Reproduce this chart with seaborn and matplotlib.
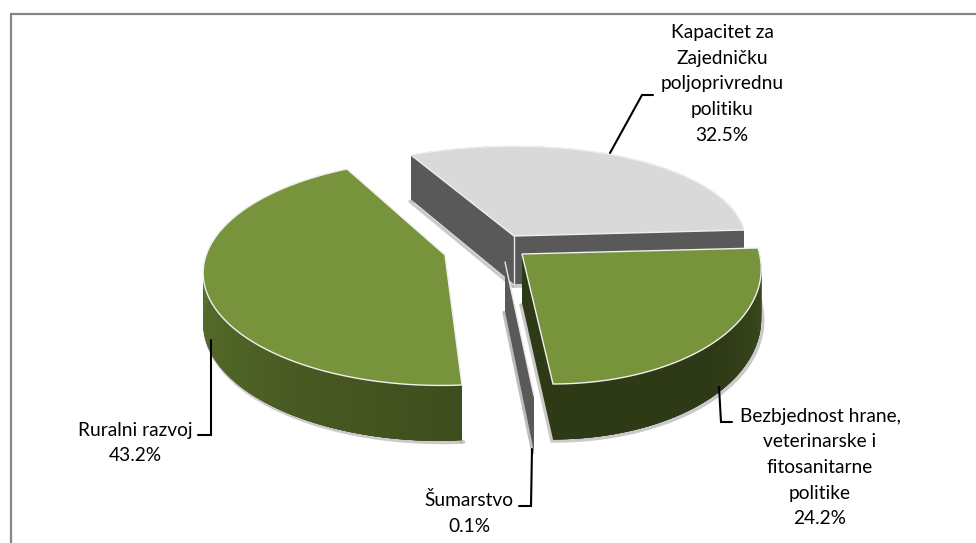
import numpy as np
import matplotlib
matplotlib.use("Agg")
import matplotlib.pyplot as plt
import seaborn as sns

# ---- data ----
categories = ["Kapacitet za\nZajedničku\npoljoprivrednu\npolitiku",
              "Bezbjednost hrane,\nveterinarske i\nfitosanitarne\npolitike",
              "Šumarstvo", "Ruralni razvoj"]
values = [32.5, 24.2, 0.1, 43.2]
value_labels = ["32.5%", "24.2%", "0.1%", "43.2%"]

# ---- layout of the perspective view (pixels) ----
W, H = 976, 543
apex = {0: (514, 236), 1: (522, 254), 2: (505, 262), 3: (445, 255)}
rim_start = {0: (411, 155), 1: (758, 248), 3: (462, 385)}
rim_mid = {0: (628, 158), 1: (713, 343), 3: (205, 287)}
rim_end = {0: (744, 230), 1: (553, 384), 2: (534, 396), 3: (347, 169)}

top_colors = ["#D9D9D9", "#77933C", "#595959", "#77933C"]
side_ramps = [["#595959", "#595959"], ["#3F4F20", "#2E3916", "#2E3916"],
              ["#595959", "#595959"], ["#6C8836", "#3E4D1D"]]
inner_colors = ["#595959", "#2E3916", "#595959", "#3E4D1D"]
order = [0, 3, 2, 1]

label_pos = [(722, 84), (820, 467.5), (469, 513), (135, 443)]
leaders = [[(653, 95), (642, 95), (610, 153)],
           [(719, 387), (721, 422), (732, 422)],
           [(532, 449), (531, 506), (519, 506)],
           [(211, 340), (211, 435), (198, 435)]]

sns.set_theme(style="white")
plt.rcParams["font.family"] = ["Lato", "DejaVu Sans"]

fig = plt.figure(figsize=(W / 100, H / 100), dpi=100, facecolor="white")
ax = fig.add_axes([0, 0, 1, 1])
ax.set_xlim(0, W)
ax.set_ylim(H, 0)
ax.axis("off")


def homography(src, dst):
    A, b = [], []
    for (x, y), (u, v) in zip(src, dst):
        A.append([x, y, 1, 0, 0, 0, -u * x, -u * y])
        A.append([0, 0, 0, x, y, 1, -v * x, -v * y])
        b += [u, v]
    h = np.linalg.solve(np.array(A, float), np.array(b, float))
    return np.append(h, 1).reshape(3, 3)


def project(M, pts):
    p = np.c_[pts, np.ones(len(pts))] @ M.T
    return p[:, :2] / p[:, 2:]


def depth(y):
    return 37 + 0.048 * np.asarray(y, float)


def drop(pts):
    out = np.array(pts, float)
    out[:, 1] += depth(out[:, 1])
    return out


SHADOW = "#BDBDBD"
for i in order:
    sweep = values[i] / 100 * 2 * np.pi
    c = np.array(apex[i], float)
    if i == 2:
        # hair-thin slice: only its inner wall is really visible
        end = np.array(rim_end[i], float)
        wall = np.array([c, end, end + [0, depth(end[1])], c + [0, depth(c[1])]])
        bottom = wall[2:]
        ax.plot(bottom[:, 0] - 1.2, bottom[:, 1] + 0.8, color=SHADOW, lw=2.2, zorder=35)
        ax.fill(wall[:, 0], wall[:, 1], color=top_colors[i], lw=0, zorder=36)
        ax.plot([c[0], end[0]], [c[1], end[1]], color="#E6E6E6", lw=1.0, zorder=36)
        continue
    src = [(0, 0), (1, 0), (np.cos(sweep), np.sin(sweep)),
           (np.cos(sweep / 2), np.sin(sweep / 2))]
    dst = [apex[i], rim_start[i], rim_end[i], rim_mid[i]]
    M = homography(src, dst)
    t = np.linspace(0, sweep, 200)
    arc = project(M, np.c_[np.cos(t), np.sin(t)])
    low = drop(arc)
    z = 10 * (order.index(i) + 1)
    # soft shadow under the slice
    ax.plot(low[:, 0] + 1.5, low[:, 1] + 1.5, color=SHADOW, lw=2.6, zorder=z, alpha=0.8)
    # inner walls
    for e in (arc[0], arc[-1]):
        q = np.array([c, e])
        quad = np.r_[q, drop(q)[::-1]]
        ax.plot(quad[2:, 0] - 1, quad[2:, 1] + 2, color=SHADOW, lw=2.4, zorder=z, alpha=0.8)
        ax.fill(quad[:, 0], quad[:, 1], color=inner_colors[i], lw=0, zorder=z + 1)
    # outer wall with a gradient along the rim (overlapping strips avoid seams)
    n = len(t) - 1
    ramp = sns.blend_palette(side_ramps[i], n)
    if i == 3:
        ramp = ramp[::-1]
    for k in range(n):
        j = min(k + 4, n)
        quad = np.r_[arc[k:j + 1], low[k:j + 1][::-1]]
        ax.fill(quad[:, 0], quad[:, 1], facecolor=ramp[k], lw=0, zorder=z + 2)
    # top face
    top = np.r_[[c], arc]
    ax.fill(top[:, 0], top[:, 1], facecolor=top_colors[i], edgecolor="#F0F0F0",
            lw=1.0, zorder=z + 3)
    if i == 0:
        ax.plot([c[0], c[0]], [c[1], c[1] + depth(c[1])], color="#E6E6E6", lw=1, zorder=z + 3)

# chart border (right and bottom edges are cropped away)
ax.plot([W, 11, 11], [13.5, 13.5, H], color="#868686", lw=1.6, zorder=100, solid_joinstyle="miter")

for i in range(4):
    xs, ys = zip(*leaders[i])
    ax.plot(xs, ys, color="black", lw=1.5, zorder=90, solid_joinstyle="miter")
    ax.text(*label_pos[i], f"{categories[i]}\n{value_labels[i]}", ha="center", va="center",
            ma="center", fontsize=13.8, color="black", linespacing=1.62, zorder=95)

fig.savefig("out.png", dpi=100)
